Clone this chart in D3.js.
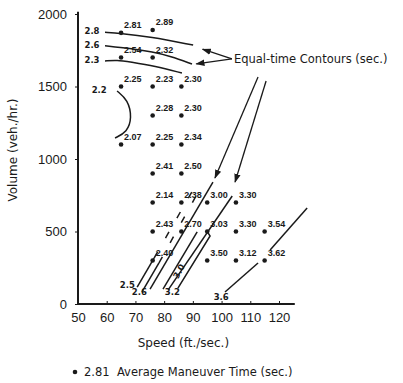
<!DOCTYPE html>
<html>
<head>
<meta charset="utf-8">
<script src="https://cdn.jsdelivr.net/npm/d3@7"></script>
<style>
  body { margin: 0; background: #fff; }
  svg { display: block; font-family: "DejaVu Sans", sans-serif; }
</style>
</head>
<body>
<div id="chart"></div>
<script>
const W = 403, H = 383;

// axis ticks
const xTicks = [50, 60, 70, 80, 90, 100, 110, 120];
const yTicks = [0, 500, 1000, 1500, 2000];

// measured points: speed (ft/sec), volume (veh/hr), avg maneuver time (sec)
const dotSpeed  = [65, 76, 65, 76, 65, 76, 86, 76, 86, 65, 76, 86, 76, 86, 76, 86, 95, 105, 76, 86, 95, 105, 115, 76, 95, 105, 115];
const dotVolume = [1870, 1890, 1700, 1700, 1500, 1500, 1500, 1300, 1300, 1100, 1100, 1100, 900, 900, 700, 700, 700, 700, 500, 500, 500, 500, 500, 300, 300, 300, 300];
const dotTime   = ["2.81", "2.89", "2.54", "2.32", "2.25", "2.23", "2.30", "2.28", "2.30", "2.07", "2.25", "2.34", "2.41", "2.50", "2.14", "2.38", "3.00", "3.30", "2.43", "2.70", "3.03", "3.30", "3.54", "2.40", "3.50", "3.12", "3.62"];

// equal-time contours, [speed, volume]
const contour28 = [[59.4, 1874], [64.6, 1867], [75.1, 1843], [90.1, 1786]];
const contour26 = [[59.4, 1781], [68.1, 1763], [76.1, 1738], [82.1, 1710], [89.7, 1655]];
const contour23 = [[59.4, 1676], [63.6, 1683], [68.1, 1669], [76.8, 1641], [86.2, 1593]];
const contour22 = [[63.6, 1469], [67.4, 1407], [68.8, 1283], [67.1, 1186], [62.9, 1145]];

const solid25 = [[70.6, 117], [76.5, 317]];
const dash25  = [[76.5, 317], [91.8, 848]];
const solid26 = [[72.3, 83], [78.2, 283]];
const dash26  = [[78.2, 283], [93.6, 834]];
const line30a = [[75.1, 103], [97.0, 841]];
const line30b = [[79.6, 103], [91.5, 497]];
const line30c = [[81.4, 97], [103.7, 745]];
const line32  = [[84.8, 110], [96.0, 469], [94.9, 503]];
const line36a = [[101.2, 83], [112.7, 283]];
const line36b = [[116.9, 372], [129.8, 662]];
const leader1 = [[112.7, 1566], [97.7, 869]];
const leader2 = [[115.5, 1538], [104.7, 841]];

// contour labels
const contourLabels = [
  { t: "2.8", s: 57.5, v: 1860 },
  { t: "2.6", s: 57.5, v: 1765 },
  { t: "2.3", s: 57.5, v: 1660 },
  { t: "2.2", s: 60.0, v: 1455 },
  { t: "2.5", s: 69.8, v: 110 },
  { t: "2.6", s: 74.0, v: 60 },
  { t: "3.2", s: 85.5, v: 60 },
  { t: "3.6", s: 102.5, v: 30 }
];

const ink = "#1a1a1a";
const x = d3.scaleLinear().domain([50, 120]).range([78, 279]);
const y = d3.scaleLinear().domain([0, 2000]).range([304, 14]);

const svg = d3.select("#chart").append("svg")
  .attr("width", W).attr("height", H);

svg.append("defs").append("marker")
  .attr("id", "arr").attr("viewBox", "0 0 10 10")
  .attr("refX", 9).attr("refY", 5)
  .attr("markerWidth", 7).attr("markerHeight", 7)
  .attr("orient", "auto")
  .append("path").attr("d", "M0,1.5L10,5L0,8.5Z").attr("fill", ink);

// axes
const xAxis = d3.axisBottom(x).tickValues(xTicks).tickFormat(d3.format("d"))
  .tickSize(-3).tickPadding(9).tickSizeOuter(0);
const gx = svg.append("g").attr("transform", `translate(0,${y(0)})`).call(xAxis);
gx.select(".domain").remove();
gx.append("line").attr("x1", x(50)).attr("x2", x(125.5)).attr("stroke", ink).attr("stroke-width", 2);

const yAxis = d3.axisLeft(y).tickValues(yTicks).tickFormat(d3.format("d"))
  .tickSize(3).tickPadding(8).tickSizeOuter(0);
const gy = svg.append("g").attr("transform", `translate(${x(50)},0)`).call(yAxis);
gy.select(".domain").remove();
gy.append("line").attr("y1", y(0)).attr("y2", y(2015)).attr("stroke", ink).attr("stroke-width", 2);

svg.selectAll(".tick text").attr("font-size", 13).attr("fill", ink);
svg.selectAll(".tick line").attr("stroke", ink);

// axis titles
svg.append("text").attr("x", (x(50) + x(125.5)) / 2 - 3).attr("y", 347)
  .attr("text-anchor", "middle").attr("font-size", 12).attr("fill", ink)
  .text("Speed (ft./sec.)");
svg.append("text").attr("transform", "translate(17,150) rotate(-90)")
  .attr("text-anchor", "middle").attr("font-size", 12).attr("fill", ink)
  .text("Volume (veh./hr.)");

// contours
const line = d3.line().x(d => x(d[0])).y(d => y(d[1]));
const smooth = d3.line().x(d => x(d[0])).y(d => y(d[1])).curve(d3.curveBasis);
const g = svg.append("g").attr("fill", "none").attr("stroke", ink).attr("stroke-width", 1.5);

[contour28, contour26, contour23, contour22].forEach(c => g.append("path").attr("d", smooth(c)));
[solid25, solid26, line30a, line30b, line30c, line32, line36a, line36b].forEach(c => g.append("path").attr("d", line(c)));
[dash25, dash26].forEach(c => g.append("path").attr("d", line(c)).attr("stroke-dasharray", "7,16"));
[leader1, leader2].forEach(c => g.append("path").attr("d", line(c)).attr("stroke-width", 1.3).attr("marker-end", "url(#arr)"));

// equal-time contours annotation
const annoAt = [103.6, 1690];
g.append("path").attr("d", line([annoAt, [93.4, 1757]])).attr("stroke-width", 1.3).attr("marker-end", "url(#arr)");
g.append("path").attr("d", line([annoAt, [91.2, 1656]])).attr("stroke-width", 1.3).attr("marker-end", "url(#arr)");
svg.append("text").attr("x", x(annoAt[0]) + 2).attr("y", y(annoAt[1]) + 4)
  .attr("font-size", 11.5).attr("fill", ink).text("Equal-time Contours (sec.)");

svg.append("g").selectAll("text").data(contourLabels).join("text")
  .attr("x", d => x(d.s)).attr("y", d => y(d.v))
  .attr("text-anchor", "end").attr("font-size", 8.5).attr("font-weight", "bold")
  .attr("fill", ink).text(d => d.t);

svg.append("text").attr("transform", `translate(${x(84.8)},${y(170)}) rotate(-62)`)
  .attr("font-size", 8.5).attr("font-weight", "bold").attr("fill", ink).text("3.0");

// points
const idx = d3.range(dotTime.length);
svg.append("g").selectAll("circle").data(idx).join("circle")
  .attr("cx", i => x(dotSpeed[i])).attr("cy", i => y(dotVolume[i]))
  .attr("r", 2.3).attr("fill", ink);
svg.append("g").selectAll("text").data(idx).join("text")
  .attr("x", i => x(dotSpeed[i]) + 3).attr("y", i => y(dotVolume[i]) - 5)
  .attr("font-family", "Liberation Sans, sans-serif")
  .attr("font-size", 9).attr("font-weight", "bold").attr("fill", ink)
  .text(i => dotTime[i]);

// legend
svg.append("circle").attr("cx", 75).attr("cy", 372).attr("r", 2.3).attr("fill", ink);
svg.append("text").attr("x", 84).attr("y", 376).attr("font-size", 11.5).attr("fill", ink)
  .attr("xml:space", "preserve").text("2.81  Average Maneuver Time (sec.)");
</script>
</body>
</html>
